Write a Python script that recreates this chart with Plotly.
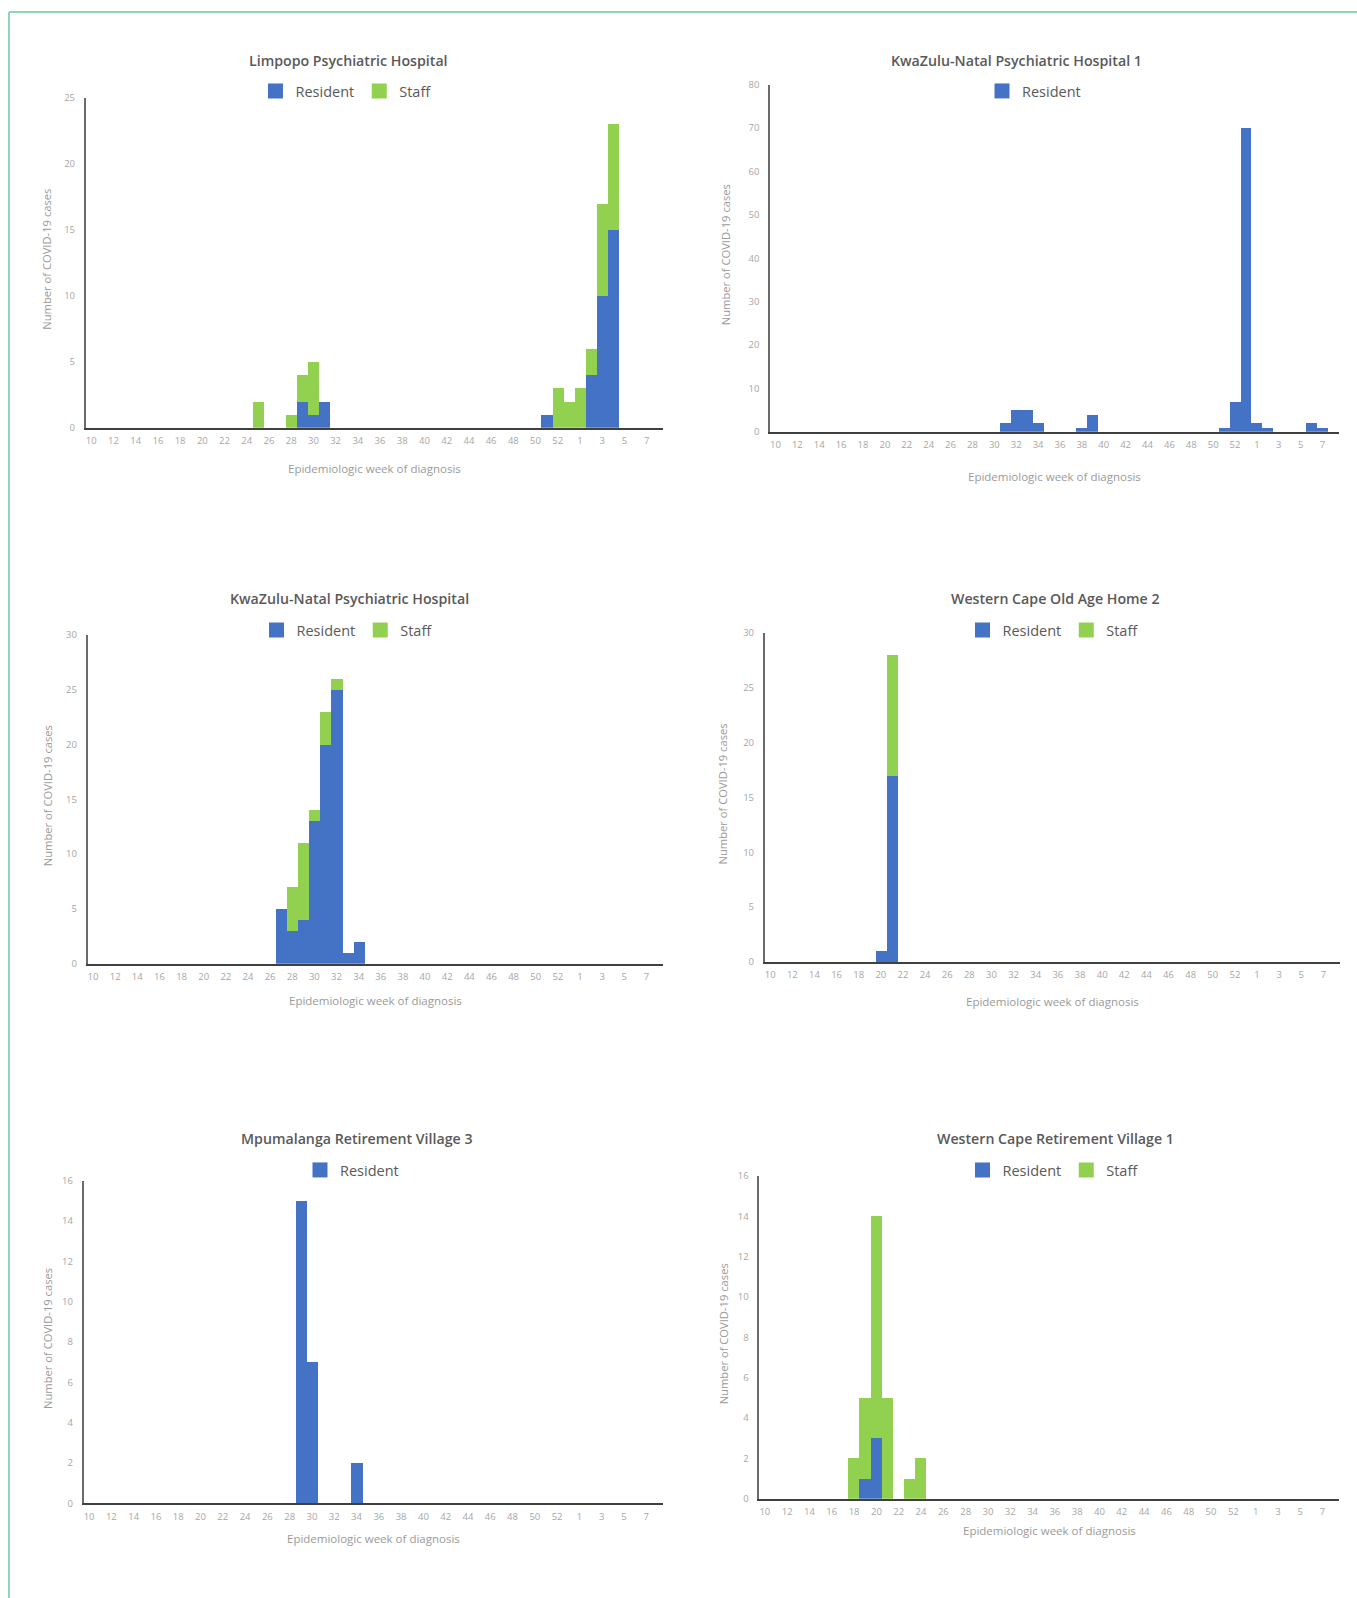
import plotly.graph_objects as go

# ---------------- data ----------------
week_categories = ["10", "11", "12", "13", "14", "15", "16", "17", "18", "19",
                   "20", "21", "22", "23", "24", "25", "26", "27", "28", "29",
                   "30", "31", "32", "33", "34", "35", "36", "37", "38", "39",
                   "40", "41", "42", "43", "44", "45", "46", "47", "48", "49",
                   "50", "51", "52", "53", "1", "2", "3", "4", "5", "6", "7", "8"]
tick_labels = ["10", "12", "14", "16", "18", "20", "22", "24", "26", "28", "30",
               "32", "34", "36", "38", "40", "42", "44", "46", "48", "50", "52",
               "1", "3", "5", "7"]

limpopo_weeks = ["25", "28", "29", "30", "31", "51", "52", "53", "1", "2", "3", "4"]
limpopo_resident = [0, 0, 2, 1, 2, 1, 0, 0, 0, 4, 10, 15]
limpopo_staff = [2, 1, 2, 4, 0, 0, 3, 2, 3, 2, 7, 8]

kzn1_weeks = ["31", "32", "33", "34", "38", "39", "51", "52", "53", "1", "2", "6", "7"]
kzn1_resident = [2, 5, 5, 2, 1, 4, 1, 7, 70, 2, 1, 2, 1]

kzn_weeks = ["27", "28", "29", "30", "31", "32", "33", "34"]
kzn_resident = [5, 3, 4, 13, 20, 25, 1, 2]
kzn_staff = [0, 4, 7, 1, 3, 1, 0, 0]

wcoah2_weeks = ["20", "21"]
wcoah2_resident = [1, 17]
wcoah2_staff = [0, 11]

mpu3_weeks = ["29", "30", "34"]
mpu3_resident = [15, 7, 2]

wcrv1_weeks = ["18", "19", "20", "21", "23", "24"]
wcrv1_resident = [0, 1, 3, 0, 0, 0]
wcrv1_staff = [2, 4, 11, 5, 1, 2]

titles = ["Limpopo Psychiatric Hospital", "KwaZulu-Natal Psychiatric Hospital 1",
          "KwaZulu-Natal Psychiatric Hospital", "Western Cape Old Age Home 2",
          "Mpumalanga Retirement Village 3", "Western Cape Retirement Village 1"]
y_max = [25, 80, 30, 30, 16, 16]
y_dtick = [5, 10, 5, 5, 2, 2]

series = [
    (limpopo_weeks, limpopo_resident, limpopo_staff),
    (kzn1_weeks, kzn1_resident, None),
    (kzn_weeks, kzn_resident, kzn_staff),
    (wcoah2_weeks, wcoah2_resident, wcoah2_staff),
    (mpu3_weeks, mpu3_resident, None),
    (wcrv1_weeks, wcrv1_resident, wcrv1_staff),
]

# ---------------- layout (page pixels) ----------------
W, H = 1357, 1598
BLUE = "#4472C4"
GREEN = "#92D050"
FONT = "Open Sans"

panel_layout = [
    dict(xd=(85.7, 663.3), yd=(97.7, 427.7), tc=(348, 60.7), lc=(346, 91), xt=468, yt=47),
    dict(xd=(770, 1339), yd=(84.7, 431.7), tc=(1017, 60.7), lc=(1034, 91), xt=476, yt=725),
    dict(xd=(87.5, 663), yd=(634.7, 963.7), tc=(349, 598), lc=(347, 630), xt=1000, yt=47),
    dict(xd=(764.7, 1340), yd=(633, 962), tc=(1055, 598), lc=(1053, 630), xt=1001, yt=722),
    dict(xd=(83.5, 663), yd=(1180.7, 1503.3), tc=(357, 1138), lc=(352, 1170), xt=1538, yt=47),
    dict(xd=(759.3, 1339.3), yd=(1176, 1498.7), tc=(1055, 1138), lc=(1053, 1170), xt=1530, yt=723),
]


def fx(x):
    return x / W


def fy(y):
    return 1 - y / H


fig = go.Figure()
annotations = []
layout_updates = {}

for i, (weeks, resident, staff) in enumerate(series):
    p = panel_layout[i]
    n = "" if i == 0 else str(i + 1)
    leg = "legend" if i == 0 else f"legend{i + 1}"
    fig.add_trace(go.Bar(x=weeks, y=resident, name="Resident", marker_color=BLUE,
                         marker_line_width=0, xaxis="x" + n, yaxis="y" + n,
                         showlegend=False))
    # legend proxy (bigger square swatch)
    fig.add_trace(go.Scatter(x=[None], y=[None], mode="markers", name="Resident",
                             marker=dict(symbol="square", size=15, color=BLUE),
                             xaxis="x" + n, yaxis="y" + n, legend=leg))
    if staff is not None:
        fig.add_trace(go.Bar(x=weeks, y=staff, name="Staff", marker_color=GREEN,
                             marker_line_width=0, xaxis="x" + n, yaxis="y" + n,
                             showlegend=False))
        fig.add_trace(go.Scatter(x=[None], y=[None], mode="markers", name="Staff",
                                 marker=dict(symbol="square", size=15, color=GREEN),
                                 xaxis="x" + n, yaxis="y" + n, legend=leg))

    layout_updates["xaxis" + n] = dict(
        domain=[fx(p["xd"][0]), fx(p["xd"][1])], anchor="y" + n,
        type="category", categoryorder="array", categoryarray=week_categories,
        range=[-0.5, len(week_categories) - 0.5],
        tickmode="array", tickvals=tick_labels, ticktext=tick_labels,
        showline=True, linecolor="#404040", linewidth=2, showgrid=False, zeroline=False,
        ticks="", ticklabelstandoff=3,
        tickfont=dict(family=FONT, size=9.5, color="#a6a6a6"),
        automargin=False, fixedrange=True,
    )
    layout_updates["yaxis" + n] = dict(
        domain=[fy(p["yd"][1]), fy(p["yd"][0])], anchor="x" + n,
        range=[0, y_max[i]], dtick=y_dtick[i], tick0=0,
        showline=True, linecolor="#6b6b6b", linewidth=1.5, showgrid=False, zeroline=False,
        ticks="", ticklabelstandoff=7,
        tickfont=dict(family=FONT, size=9.5, color="#a6a6a6"),
        automargin=False, fixedrange=True,
    )
    layout_updates[leg] = dict(
        x=fx(p["lc"][0]), y=fy(p["lc"][1]), xanchor="center", yanchor="middle",
        orientation="h", bgcolor="rgba(0,0,0,0)", traceorder="normal",
        font=dict(family=FONT, size=14.5, color="#595959", weight=500),
        itemclick=False, itemdoubleclick=False,
    )
    annotations.append(dict(
        text=titles[i], x=fx(p["tc"][0]), y=fy(p["tc"][1]), xref="paper", yref="paper",
        xanchor="center", yanchor="middle", showarrow=False,
        font=dict(family=FONT, size=14.2, color="#595959", weight=600),
    ))
    annotations.append(dict(
        text="Epidemiologic week of diagnosis",
        x=fx((p["xd"][0] + p["xd"][1]) / 2), y=fy(p["xt"]), xref="paper", yref="paper",
        xanchor="center", yanchor="middle", showarrow=False,
        font=dict(family=FONT, size=11.5, color="#9a9a9a"),
    ))
    annotations.append(dict(
        text="Number of COVID-19 cases", textangle=-90,
        x=fx(p["yt"]), y=fy((p["yd"][0] + p["yd"][1]) / 2 - 3), xref="paper", yref="paper",
        xanchor="center", yanchor="middle", showarrow=False,
        font=dict(family=FONT, size=11.2, color="#9a9a9a"),
    ))

fig.update_layout(
    width=W, height=H, autosize=False,
    margin=dict(l=0, r=0, t=0, b=0),
    paper_bgcolor="white", plot_bgcolor="white",
    barmode="stack", bargap=0,
    annotations=annotations,
    shapes=[
        dict(type="line", xref="paper", yref="paper", x0=fx(9), x1=1, y0=fy(12), y1=fy(12),
             line=dict(color="#8fd5b6", width=2)),
        dict(type="line", xref="paper", yref="paper", x0=fx(9), x1=fx(9), y0=fy(12), y1=0,
             line=dict(color="#8fd5b6", width=2)),
    ],
    **layout_updates,
)

# remove the page's default 8px body margin so the figure fills the window exactly
fig.write_html("out.html", config={"displayModeBar": False},
               post_script="document.body.style.margin='0';document.body.style.overflow='hidden';")
